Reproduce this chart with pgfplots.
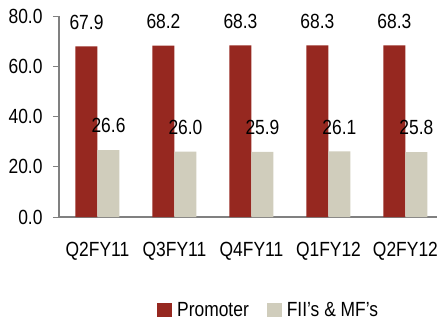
\documentclass[border=0pt]{standalone}
\usepackage{fontspec}
\setmainfont{Liberation Sans}[FakeStretch=0.85]
\usepackage{pgfplots}
\pgfplotsset{compat=1.18}
\definecolor{promred}{RGB}{150,40,32}
\definecolor{fiibeige}{RGB}{208,205,188}
\definecolor{axgray}{RGB}{128,128,128}
\newcommand{\chartfont}{\fontsize{20.5bp}{22bp}\selectfont}
\begin{document}
\begin{tikzpicture}
\path[use as bounding box] (-59bp,-105bp) rectangle (382bp,217bp);
\begin{axis}[
  at={(0,0)}, anchor=south west,
  scale only axis, width=378bp, height=201bp,
  ybar=0pt, bar width=22bp,
  xmin=-0.5, xmax=4.41, ymin=0, ymax=80,
  xtick={0,1,2,3,4},
  xticklabels={Q2FY11,Q3FY11,Q4FY11,Q1FY12,Q2FY12},
  major x tick style={draw=none},
  extra x ticks={-0.5,0.5,1.5,2.5,3.5},
  extra x tick labels={},
  extra x tick style={tick style={axgray, line width=1bp}},
  ytick={0,20,40,60,80},
  axis x line=bottom, axis y line=left,
  axis line style={-, axgray, line width=1.5bp},
  tick align=outside, major tick length=6bp,
  tick style={axgray, line width=1bp},
  /pgf/number format/assume math mode=true,
  yticklabel style={/pgf/number format/fixed, /pgf/number format/fixed zerofill, /pgf/number format/precision=1, xshift=-7bp},
  xticklabel style={yshift=-16bp},
  every tick label/.append style={font=\chartfont, text=black},
  nodes near coords,
  nodes near coords style={/pgf/number format/fixed, /pgf/number format/fixed zerofill, /pgf/number format/precision=1},
  every node near coord/.append style={font=\chartfont, text=black, inner sep=0pt, anchor=south, yshift=17bp},
  legend style={at={(0.552,-0.462)}, anchor=center, draw=none, legend columns=2,
    font=\chartfont, inner sep=0pt,
    nodes={inner sep=0pt},
    /tikz/every odd column/.append style={column sep=5bp},
    /tikz/every even column/.append style={column sep=18bp}},
  legend image code/.code={\fill[#1,draw=none] (0bp,-7bp) rectangle (15bp,7bp);},
]
\addplot[fill=promred, draw=none] coordinates {(0,67.9) (1,68.2) (2,68.3) (3,68.3) (4,68.3)};
\addplot[fill=fiibeige, draw=none] coordinates {(0,26.6) (1,26.0) (2,25.9) (3,26.1) (4,25.8)};
\legend{Promoter, FII's \& MF's}
\end{axis}
\end{tikzpicture}
\end{document}
